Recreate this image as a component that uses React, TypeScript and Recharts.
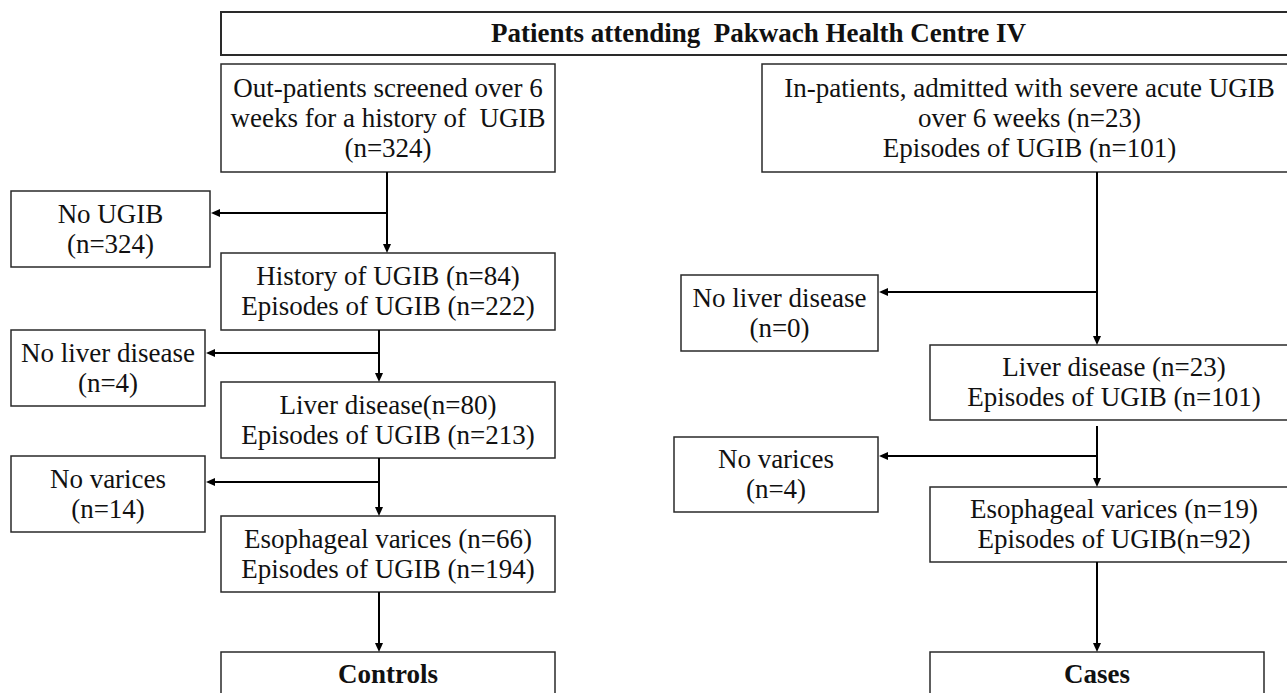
import { ScatterChart, Scatter, XAxis, YAxis, ReferenceArea, ReferenceLine } from 'recharts'

// flowchart units: one unit per pixel of the 1287 x 693 picture, y grows downwards
const W = 1287
const H = 693

// box texts
const boxText: string[][] = [
  ['Patients attending  Pakwach Health Centre IV'],
  ['Out-patients screened over 6', 'weeks for a history of  UGIB', '(n=324)'],
  ['No UGIB', '(n=324)'],
  ['History of UGIB (n=84)', 'Episodes of UGIB (n=222)'],
  ['No liver disease', '(n=4)'],
  ['Liver disease(n=80)', 'Episodes of UGIB (n=213)'],
  ['No varices', '(n=14)'],
  ['Esophageal varices (n=66)', 'Episodes of UGIB (n=194)'],
  ['Controls'],
  ['In-patients, admitted with severe acute UGIB', 'over 6 weeks (n=23)', 'Episodes of UGIB (n=101)'],
  ['No liver disease', '(n=0)'],
  ['Liver disease (n=23)', 'Episodes of UGIB (n=101)'],
  ['No varices', '(n=4)'],
  ['Esophageal varices (n=19)', 'Episodes of UGIB(n=92)'],
  ['Cases'],
]
const boldBoxes = [0, 8, 14]

// box edges [x1, x2, y1, y2]
const boxEdges: number[][] = [
  [221, 1296, 12, 55],
  [221, 555, 64, 172],
  [11, 210, 191, 267],
  [221, 555, 253, 330],
  [11, 205, 330, 406],
  [221, 555, 382, 458],
  [11, 205, 456, 532],
  [221, 555, 516, 592],
  [221, 555, 652, 697],
  [762, 1297, 64, 172],
  [681, 878, 275, 351],
  [930, 1298, 345, 420],
  [674, 878, 437, 512],
  [930, 1298, 487, 562],
  [930, 1264, 652, 697],
]

// connectors [x1, y1, x2, y2], arrowhead at the second end
const arrows: number[][] = [
  [387, 172, 387, 253],
  [387, 213, 211, 213],
  [379, 330, 379, 382],
  [379, 353, 206, 353],
  [379, 458, 379, 516],
  [379, 482, 206, 482],
  [379, 592, 379, 652],
  [1097, 172, 1097, 345],
  [1097, 292, 879, 292],
  [1097, 426, 1097, 487],
  [1097, 456, 879, 456],
  [1097, 562, 1097, 652],
]

const FONT = "'Liberation Serif', 'Times New Roman', serif"
const FS = 27
const LH = 30

const labelData = boxEdges.map((b, i) => ({
  cx: (b[0] + Math.min(b[1], b[0] + (b[1] - b[0]))) / 2,
  cy: (b[2] + b[3]) / 2,
  lines: boxText[i],
  bold: boldBoxes.includes(i),
}))

function BoxText(props: any) {
  const { cx, cy, payload } = props
  const n = payload.lines.length
  const first = cy - ((n - 1) * LH) / 2 + FS * 0.33
  return (
    <text
      x={cx}
      textAnchor="middle"
      fontFamily={FONT}
      fontSize={FS}
      fontWeight={payload.bold ? 'bold' : 'normal'}
      fill="#111"
      style={{ whiteSpace: 'pre' }}
    >
      {payload.lines.map((l: string, i: number) => (
        <tspan key={i} x={cx} y={first + i * LH}>
          {l}
        </tspan>
      ))}
    </text>
  )
}

function Arrow(props: any) {
  const { x1, y1, x2, y2 } = props
  const dx = x2 - x1
  const dy = y2 - y1
  const len = Math.hypot(dx, dy) || 1
  const ux = dx / len
  const uy = dy / len
  const hl = 9
  const hw = 4
  const bx = x2 - ux * hl
  const by = y2 - uy * hl
  return (
    <g>
      <line x1={x1} y1={y1} x2={bx} y2={by} stroke="#000" strokeWidth={2} />
      <polygon
        points={`${x2},${y2} ${bx - uy * hw},${by + ux * hw} ${bx + uy * hw},${by - ux * hw}`}
        fill="#000"
      />
    </g>
  )
}

export default function App() {
  return (
    <div style={{ position: 'absolute', left: 0, top: 0, width: W, height: H, background: '#fff' }}>
      <ScatterChart width={W} height={H} margin={{ top: 0, right: 0, bottom: 0, left: 0 }}>
        <XAxis type="number" dataKey="cx" domain={[0, W]} hide allowDataOverflow />
        <YAxis type="number" dataKey="cy" domain={[0, H]} reversed hide allowDataOverflow />
        {boxEdges.map((b, i) => (
          <ReferenceArea
            key={`box-${i}`}
            x1={b[0]}
            x2={b[1]}
            y1={b[2]}
            y2={b[3]}
            ifOverflow="visible"
            fill="#fff"
            fillOpacity={1}
            stroke="#2a2a2a"
            strokeWidth={i === 0 ? 2 : 1.5}
          />
        ))}
        {arrows.map((a, i) => (
          <ReferenceLine
            key={`arrow-${i}`}
            segment={[
              { x: a[0], y: a[1] },
              { x: a[2], y: a[3] },
            ]}
            ifOverflow="visible"
            shape={Arrow}
          />
        ))}
        <Scatter data={labelData} isAnimationActive={false} shape={BoxText} />
      </ScatterChart>
    </div>
  )
}
